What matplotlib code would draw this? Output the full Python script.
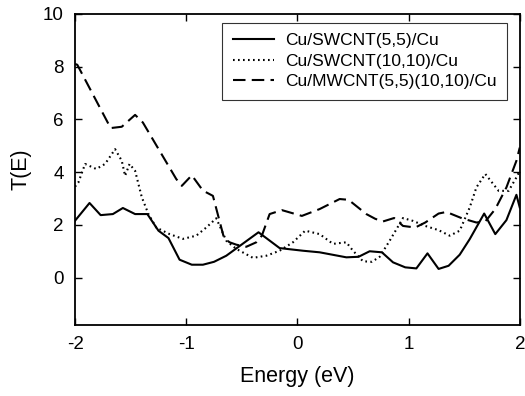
import numpy as np
import matplotlib
matplotlib.use("Agg")
import matplotlib.pyplot as plt

plt.rcParams['font.family'] = ['Liberation Sans', 'DejaVu Sans']
plt.rcParams['axes.unicode_minus'] = False

# Cu/SWCNT(5,5)/Cu
e_55 = [-2.0, -1.87, -1.77, -1.66, -1.57, -1.46, -1.35, -1.25, -1.16, -1.06,
        -0.95, -0.85, -0.75, -0.64, -0.35, -0.16, 0.05, 0.20, 0.44, 0.55,
        0.65, 0.76, 0.86, 0.97, 1.07, 1.17, 1.27, 1.36, 1.46, 1.55, 1.68,
        1.78, 1.88, 1.97, 2.0]
t_55 = [2.16, 2.83, 2.37, 2.41, 2.64, 2.41, 2.41, 1.78, 1.50, 0.68,
        0.49, 0.49, 0.60, 0.83, 1.72, 1.12, 1.02, 0.96, 0.77, 0.79,
        1.00, 0.96, 0.58, 0.39, 0.35, 0.92, 0.33, 0.45, 0.87, 1.46, 2.43,
        1.65, 2.18, 3.14, 2.66]

# Cu/SWCNT(10,10)/Cu
e_1010 = [-2.0, -1.97, -1.91, -1.81, -1.73, -1.64, -1.58, -1.55, -1.51, -1.46,
          -1.40, -1.34, -1.27, -1.15, -1.03, -0.91, -0.82, -0.73, -0.64, -0.55,
          -0.40, -0.28, -0.16, -0.04, 0.07, 0.20, 0.32, 0.44, 0.50, 0.59,
          0.67, 0.74, 0.83, 0.95, 1.04, 1.15, 1.27, 1.37, 1.46, 1.55, 1.61,
          1.69, 1.81, 1.90, 1.97, 2.0]
t_1010 = [3.45, 3.61, 4.31, 4.12, 4.31, 4.87, 4.43, 3.86, 4.31, 4.05,
          3.05, 2.41, 1.90, 1.65, 1.47, 1.59, 1.90, 2.25, 1.40, 1.09,
          0.75, 0.83, 1.02, 1.34, 1.78, 1.65, 1.28, 1.34, 1.02, 0.62,
          0.60, 0.79, 1.40, 2.26, 2.15, 1.96, 1.80, 1.59, 1.78, 2.66, 3.42,
          3.93, 3.29, 3.29, 3.80, 4.05]

# Cu/MWCNT(5,5)(10,10)/Cu
e_mw = [-2.0, -1.98, -1.68, -1.58, -1.46, -1.39, -1.09, -1.04, -0.95, -0.85,
        -0.76, -0.66, -0.61, -0.55, -0.46, -0.37, -0.32, -0.25, -0.14, 0.04,
        0.20, 0.38, 0.46, 0.62, 0.70, 0.77, 0.87, 0.95, 1.06, 1.15, 1.27,
        1.34, 1.48, 1.61, 1.69, 1.78, 1.88, 1.97, 2.0]
t_mw = [8.1, 8.07, 5.67, 5.72, 6.17, 5.88, 3.74, 3.48, 3.88, 3.30,
        3.10, 1.50, 1.34, 1.25, 1.17, 1.34, 1.59, 2.41, 2.56, 2.34,
        2.60, 2.98, 2.95, 2.41, 2.23, 2.13, 2.26, 1.96, 1.90, 2.09, 2.43,
        2.49, 2.25, 2.09, 2.13, 2.60, 3.42, 4.43, 4.93]

fig = plt.figure(figsize=(5.25, 3.96), dpi=100)
ax = fig.add_axes([0.143, 0.179, 0.847, 0.786])

ax.plot(e_55, t_55, color='black', lw=1.5, ls='-', label='Cu/SWCNT(5,5)/Cu')
ax.plot(e_1010, t_1010, color='black', lw=1.5, ls=(0, (0.8, 1.6)),
        label='Cu/SWCNT(10,10)/Cu')
ax.plot(e_mw, t_mw, color='black', lw=1.5, ls=(0, (6, 3)),
        label='Cu/MWCNT(5,5)(10,10)/Cu')

ax.set_xlim(-2, 2)
ax.set_ylim(-1.8, 10)
ax.set_xticks([-2, -1, 0, 1, 2])
ax.set_yticks([0, 2, 4, 6, 8, 10])
ax.tick_params(direction='in', top=True, right=True, labelsize=13.5,
               length=5, width=1, pad=8)
for s in ax.spines.values():
    s.set_linewidth(1.3)

ax.set_xlabel('Energy (eV)', fontsize=15.5, labelpad=9)
ax.set_ylabel('T(E)', fontsize=15.5, labelpad=8)

leg = ax.legend(loc='upper right', fontsize=12.5, frameon=True, fancybox=False,
                edgecolor='black', handlelength=2.4, handletextpad=0.6,
                borderpad=0.6, labelspacing=0.3, borderaxespad=0,
                bbox_to_anchor=(0.971, 0.971))
leg.get_frame().set_linewidth(0.8)

fig.savefig('out.png', dpi=100)
